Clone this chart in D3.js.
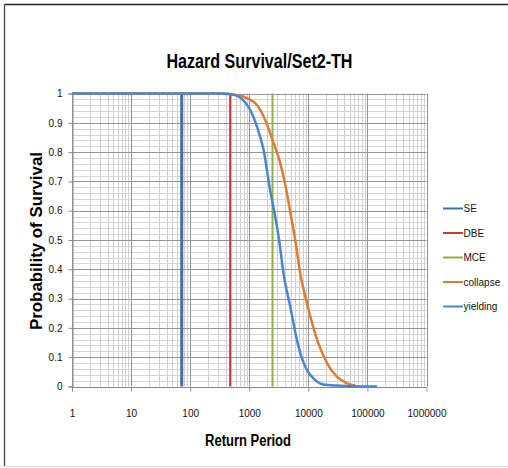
<!DOCTYPE html>
<html>
<head>
<meta charset="utf-8">
<script src="https://cdn.jsdelivr.net/npm/d3@7"></script>
<style>
  html, body { margin: 0; padding: 0; background: #fff; }
  svg { display: block; }
</style>
</head>
<body>
<svg id="chart" width="508" height="468"></svg>
<script>
// ---- Data ----
const titleText = "Hazard Survival/Set2-TH";
const xTitle = "Return Period";
const yTitle = "Probability of Survival";
const xTickValues = [1, 10, 100, 1000, 10000, 100000, 1000000];
const yTickValues = [0, 0.1, 0.2, 0.3, 0.4, 0.5, 0.6, 0.7, 0.8, 0.9, 1];

// Hazard levels (vertical lines)
const hazardNames = ["SE", "DBE", "MCE"];
const hazardReturnPeriods = [72, 475, 2475];

// Survival curves
const collapseRP   = [1, 10, 100, 365, 600, 800, 1000, 1350, 1870, 2475, 3350, 4350, 5000, 6000, 7300, 9500, 14100, 20800, 30700, 45500, 63000];
const collapseSurv = [1, 1, 1, 1, 0.995, 0.989, 0.98, 0.961, 0.909, 0.841, 0.762, 0.659, 0.59, 0.5, 0.386, 0.284, 0.159, 0.079, 0.033, 0.011, 0.003];
const yieldingRP   = [1, 10, 100, 300, 500, 700, 1000, 1350, 1750, 2250, 2750, 3200, 3800, 4950, 6400, 8000, 9500, 13000, 16000, 21000, 50000, 100000, 145000];
const yieldingSurv = [1, 1, 1, 1, 0.997, 0.986, 0.95, 0.887, 0.807, 0.671, 0.58, 0.5, 0.386, 0.272, 0.159, 0.09, 0.056, 0.022, 0.01, 0.005, 0.001, 0, 0];

const legendNames = ["SE", "DBE", "MCE", "collapse", "yielding"];
const colors = {SE: "#3F6FA8", DBE: "#B8413C", MCE: "#8DB04A", collapse: "#E07B32", yielding: "#4A86CF"};

// ---- Layout ----
const svg = d3.select("#chart");
const plot = {left: 72, right: 426.5, top: 93.5, bottom: 386.5};

const x = d3.scaleLog().domain([1, 1000000]).range([plot.left, plot.right]);
const y = d3.scaleLinear().domain([0, 1]).range([plot.bottom, plot.top]);

// outer frame
svg.append("line").attr("x1", 4.5).attr("x2", 508).attr("y1", 4.5).attr("y2", 4.5).attr("stroke", "#222").attr("stroke-width", 1.3);
svg.append("line").attr("x1", 4.5).attr("x2", 4.5).attr("y1", 4.5).attr("y2", 466).attr("stroke", "#444").attr("stroke-width", 1.3);
svg.append("line").attr("x1", 4.5).attr("x2", 508).attr("y1", 466.5).attr("y2", 466.5).attr("stroke", "#d8d8d8").attr("stroke-width", 1);

// gridlines
const minorX = [];
for (let d = 1; d < 1000000; d *= 10) for (let k = 2; k <= 9; k++) minorX.push(d * k);
const g = svg.append("g");
g.selectAll(".vminor").data(minorX).enter().append("line")
  .attr("x1", d => Math.round(x(d)) + 0.5).attr("x2", d => Math.round(x(d)) + 0.5)
  .attr("y1", plot.top).attr("y2", plot.bottom)
  .attr("stroke", "#cfcfcf").attr("stroke-width", 1);
const minorY = d3.range(0, 51).map(i => i / 50).filter((v, i) => i % 5 !== 0);
g.selectAll(".hminor").data(minorY).enter().append("line")
  .attr("x1", plot.left).attr("x2", plot.right)
  .attr("y1", d => Math.round(y(d)) + 0.5).attr("y2", d => Math.round(y(d)) + 0.5)
  .attr("stroke", "#d6d6d6").attr("stroke-width", 1);
g.selectAll(".vmajor").data(xTickValues).enter().append("line")
  .attr("x1", d => Math.round(x(d)) + 0.5).attr("x2", d => Math.round(x(d)) + 0.5)
  .attr("y1", plot.top).attr("y2", plot.bottom)
  .attr("stroke", "#959595").attr("stroke-width", 1);
g.selectAll(".hmajor").data(yTickValues).enter().append("line")
  .attr("x1", plot.left).attr("x2", plot.right)
  .attr("y1", d => Math.round(y(d)) + 0.5).attr("y2", d => Math.round(y(d)) + 0.5)
  .attr("stroke", "#959595").attr("stroke-width", 1);

// axes
const xAxis = d3.axisBottom(x).tickValues(xTickValues).tickFormat(d3.format("d")).tickSize(4).tickPadding(18);
const yAxis = d3.axisLeft(y).tickValues(yTickValues).tickFormat(d => d === 0 ? "0" : d === 1 ? "1" : d3.format(".1f")(d)).tickSize(4).tickPadding(6);
const gx = svg.append("g").attr("transform", `translate(0,${Math.round(plot.bottom) + 0.5})`).call(xAxis);
const gy = svg.append("g").attr("transform", `translate(${plot.left + 0.5},0)`).call(yAxis);
[gx, gy].forEach(a => {
  a.selectAll("path").attr("stroke", "#8a8a8a");
  a.selectAll("line").attr("stroke", "#8a8a8a");
  a.selectAll("text").attr("fill", "#111").style("font-family", "'Liberation Sans', Arial, sans-serif").style("font-size", "10px");
});
gx.select(".domain").attr("d", `M${plot.left},0H${plot.right}`);

// vertical hazard lines
const hazards = hazardNames.map((n, i) => ({name: n, rp: hazardReturnPeriods[i]}));
svg.selectAll(".hz").data(hazards).enter().append("line")
  .attr("x1", d => x(d.rp)).attr("x2", d => x(d.rp))
  .attr("y1", y(0)).attr("y2", y(1))
  .attr("stroke", d => colors[d.name])
  .attr("stroke-width", d => d.name === "SE" ? 3 : 2);

// curves
const line = d3.line().x(d => x(d[0])).y(d => y(d[1])).curve(d3.curveMonotoneX);
const collapseData = collapseRP.map((r, i) => [r, collapseSurv[i]]);
const yieldingData = yieldingRP.map((r, i) => [r, yieldingSurv[i]]);
svg.append("path").datum(collapseData).attr("d", line).attr("fill", "none")
  .attr("stroke", colors.collapse).attr("stroke-width", 2.5);
svg.append("path").datum(yieldingData).attr("d", line).attr("fill", "none")
  .attr("stroke", colors.yielding).attr("stroke-width", 2.5);

// legend
const lg = svg.append("g");
legendNames.forEach((n, i) => {
  const yy = 208.5 + i * 24.5;
  lg.append("line").attr("x1", 443).attr("x2", 463).attr("y1", yy).attr("y2", yy)
    .attr("stroke", colors[n]).attr("stroke-width", 2);
  lg.append("text").attr("x", 463.5).attr("y", yy).attr("dy", "0.35em")
    .attr("fill", "#111")
    .style("font-family", "'Liberation Sans', Arial, sans-serif")
    .style("font-size", "10px").text(n);
});

// titles
svg.append("text").attr("x", 259.5).attr("y", 68).attr("text-anchor", "middle")
  .attr("textLength", 186).attr("lengthAdjust", "spacingAndGlyphs")
  .style("font-family", "'Liberation Sans', Arial, sans-serif")
  .style("font-weight", "bold").style("font-size", "20px").attr("fill", "#000").text(titleText);
svg.append("text").attr("x", 248).attr("y", 446).attr("text-anchor", "middle")
  .attr("textLength", 86).attr("lengthAdjust", "spacingAndGlyphs")
  .style("font-family", "'Liberation Sans', Arial, sans-serif")
  .style("font-weight", "bold").style("font-size", "16px").attr("fill", "#000").text(xTitle);
svg.append("text").attr("transform", "translate(42,241) rotate(-90)").attr("text-anchor", "middle")
  .attr("textLength", 178).attr("lengthAdjust", "spacingAndGlyphs")
  .style("font-family", "'Liberation Sans', Arial, sans-serif")
  .style("font-weight", "bold").style("font-size", "16px").attr("fill", "#000").text(yTitle);
</script>
</body>
</html>
